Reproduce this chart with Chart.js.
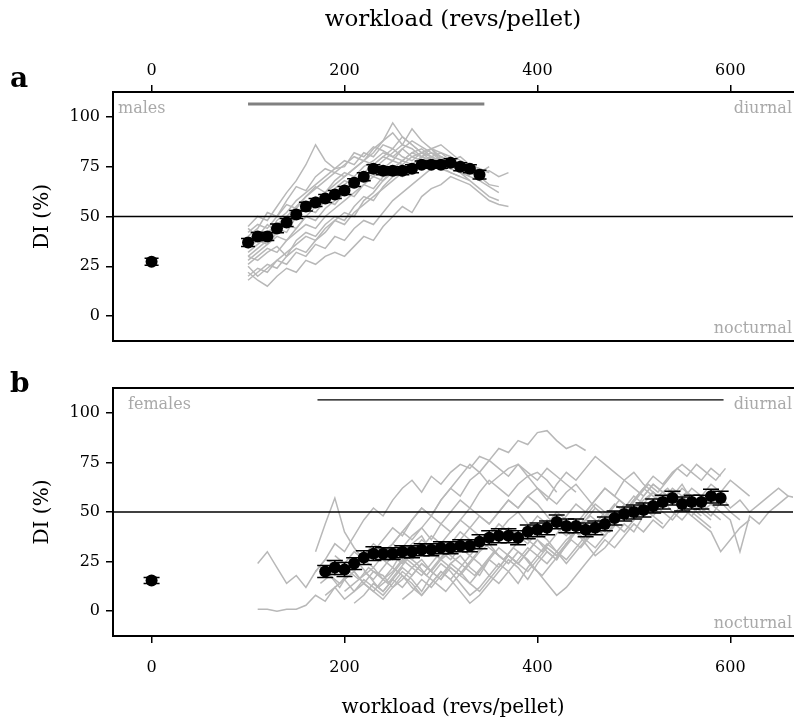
<!DOCTYPE html>
<html>
<head>
<meta charset="utf-8">
<title>DI vs workload</title>
<script src="https://cdn.jsdelivr.net/npm/chart.js@4"></script>
<style>
  html, body { margin: 0; padding: 0; background: #fff; }
  #wrap { position: relative; width: 794px; height: 720px; overflow: hidden; }
  canvas { position: absolute; left: 0; }
  #panel-a { top: 0; }
  #panel-b { top: 360px; }
</style>
</head>
<body>
<div id="wrap">
  <canvas id="panel-a" width="799" height="360"></canvas>
  <canvas id="panel-b" width="799" height="360"></canvas>
</div>
<script>
// axes
const xRange = [-40, 665];
const yRange = [-12.5, 112.5];
const xTicks = [0, 200, 400, 600];
const yTicks = [0, 25, 50, 75, 100];
const midDI = 50;
const traceStep = 10;

// workload window bars drawn along the top of each panel
const barDI = 106.5;
const maleBarX = [100, 345];
const femaleBarX = [172, 593];

// baseline (no workload) means
const baseWorkload = [0];
const maleBaseDI = [27.3];
const maleBaseSem = [1.8];
const femaleBaseDI = [15.5];
const femaleBaseSem = [1.5];

// males: group means +- sem
const maleWorkload = [100, 110, 120, 130, 140, 150, 160, 170, 180, 190, 200, 210, 220,
  230, 240, 250, 260, 270, 280, 290, 300, 310, 320, 330, 340];
const maleMeanDI = [37, 40, 40, 44, 47, 51, 55, 57, 59, 61, 63, 67, 70,
  74, 73, 73, 73, 74, 76, 76, 76, 77, 75, 74, 71];
const maleSem = [2, 2, 2, 2.2, 2, 2, 2.2, 2, 2, 2, 2, 2, 2,
  2, 2, 2, 2, 2, 1.8, 1.8, 1.8, 2, 2, 2, 2.2];

// males: individual animals, starting at 100 revs/pellet
const maleTraceStart = 100;
const maleTraces = [
  [45, 50, 48, 55, 62, 68, 76, 86, 78, 74, 75, 82, 80, 85, 83, 80, 84, 88, 85, 82, 80, 78, 80, 76, 74, 72],
  [40, 44, 52, 50, 58, 65, 63, 70, 74, 72, 76, 80, 78, 84, 88, 92, 86, 84, 80, 82, 78, 76, 72, 74],
  [22, 18, 15, 20, 24, 22, 28, 26, 30, 32, 30, 35, 40, 38, 45, 50, 55, 52, 60, 64, 66, 70, 68, 66, 62, 58, 56, 55],
  [30, 28, 32, 35, 30, 38, 42, 40, 46, 50, 48, 55, 60, 58, 65, 70, 72, 75, 78, 80, 76, 74, 72, 70, 68, 65, 62],
  [18, 22, 26, 24, 30, 34, 32, 38, 42, 48, 52, 50, 58, 62, 68, 72, 70, 76, 80, 78, 75, 72, 70, 68],
  [35, 38, 42, 46, 50, 55, 60, 65, 62, 68, 72, 70, 75, 78, 82, 80, 78, 82, 84, 80, 76, 74, 78, 75, 72, 73, 70, 72],
  [28, 32, 36, 40, 38, 44, 50, 55, 58, 56, 62, 66, 72, 70, 74, 78, 76, 80, 82, 84, 78, 76, 74, 70],
  [42, 46, 44, 50, 56, 54, 60, 64, 68, 72, 70, 74, 78, 76, 80, 84, 90, 86, 82, 78, 80, 76, 74, 72],
  [25, 20, 24, 28, 26, 32, 30, 36, 34, 40, 38, 44, 48, 46, 52, 58, 62, 66, 70, 74, 78, 76, 72, 68, 64, 60, 58],
  [38, 42, 40, 48, 52, 58, 62, 66, 70, 74, 78, 76, 82, 80, 86, 84, 80, 78, 82, 84, 80, 78, 76, 74, 72, 75],
  [32, 36, 40, 44, 42, 50, 54, 52, 58, 62, 66, 70, 68, 74, 78, 82, 86, 94, 88, 84, 82, 80, 76, 74, 72],
  [20, 24, 22, 28, 32, 36, 40, 38, 44, 48, 46, 52, 56, 60, 64, 68, 72, 76, 74, 80, 82, 78, 74, 72, 70, 66, 65],
  [44, 40, 46, 42, 48, 52, 56, 60, 58, 64, 68, 66, 72, 76, 80, 78, 84, 80, 78, 76, 74, 72, 70],
  [26, 30, 34, 32, 38, 42, 46, 44, 50, 54, 58, 62, 66, 64, 70, 74, 78, 82, 80, 78, 76, 78, 74, 72, 70],
  [34, 38, 36, 42, 46, 50, 54, 58, 62, 66, 70, 74, 78, 82, 88, 97, 90, 86, 82, 80, 78, 76, 74, 72],
  [30, 34, 38, 42, 46, 44, 50, 48, 54, 58, 62, 60, 66, 70, 68, 74, 78, 76, 80, 84, 86, 82, 78, 76, 74, 72]
];

// females: group means +- sem
const femaleWorkload = [180, 190, 200, 210, 220, 230, 240, 250, 260, 270, 280, 290, 300, 310,
  320, 330, 340, 350, 360, 370, 380, 390, 400, 410, 420, 430, 440, 450,
  460, 470, 480, 490, 500, 510, 520, 530, 540, 550, 560, 570, 580, 590];
const femaleMeanDI = [20, 22, 21, 24, 27, 29, 29, 29, 30, 30, 31, 31, 32, 32,
  33, 33, 35, 37, 38, 38, 37, 40, 41, 42, 45, 43, 43, 41,
  42, 44, 47, 49, 50, 51, 53, 55, 57, 54, 55, 55, 58, 57];
const femaleSem = [3, 3.5, 3.5, 3, 3.5, 3.5, 3, 3, 3, 3, 3, 3, 3, 3,
  3, 3, 3.5, 3.5, 3.5, 3.5, 3.5, 3.5, 3.5, 3.5, 3.5, 3.5, 3.5, 3.5,
  3.5, 3.5, 3.5, 3.5, 3.5, 3.5, 3.5, 3.5, 3.5, 3.5, 3.5, 3.5, 3.5, 3.5];

// females: individual animals, each with its own first workload step
const femaleTraceStart = [110, 110, 170, 170, 175, 180, 180, 185, 190, 190, 200, 200, 210, 220, 230, 240, 250, 260];
const femaleTraces = [
  [24, 30, 22, 14, 18, 12, 20, 26, 24, 18, 22, 28, 32, 26, 22, 30, 34, 38, 30, 26, 34, 40, 36, 30, 38, 44, 40, 36, 42, 48, 44, 50, 46, 40, 48, 54, 50, 46, 52, 58, 54, 50, 56],
  [1, 1, 0, 1, 1, 3, 8, 5, 12, 16, 10, 14, 20, 18, 12, 16, 22, 26, 20, 16, 24, 28, 22, 18, 26, 32, 28, 24, 30, 36, 30, 26, 34, 40, 36, 32, 38, 44, 40, 46],
  [30, 44, 57, 40, 32, 26, 30, 36, 42, 38, 46, 52, 48, 56, 62, 58, 66, 70, 64, 68, 72, 74, 68, 70, 66, 60],
  [20, 26, 34, 30, 38, 46, 52, 48, 56, 62, 66, 60, 68, 64, 70, 74, 72, 78, 76, 82, 80, 86, 84, 90, 91, 86, 82, 84, 81],
  [14, 18, 12, 20, 16, 22, 18, 14, 20, 26, 22, 18, 24, 30, 26, 22, 28, 34, 30, 26, 32, 38, 34, 30, 36, 42, 38, 44, 48, 44, 50, 56, 52, 48, 54, 58, 62, 56, 60, 54, 58],
  [8, 12, 6, 10, 16, 12, 8, 14, 20, 16, 10, 18, 24, 20, 14, 8, 12, 18, 24, 20, 14, 22, 28, 34, 30, 24, 30, 36, 42, 38, 44, 50, 46, 52, 48, 54, 60, 56, 62, 58, 64, 60, 66, 62, 58],
  [22, 18, 24, 20, 28, 34, 30, 26, 32, 38, 42, 36, 44, 40, 46, 52, 48, 44, 50, 56, 52, 58, 54, 48, 42, 38, 44, 50, 56, 62, 58, 66, 70, 64, 60, 56, 50, 46, 52, 48],
  [18, 14, 20, 24, 18, 12, 16, 22, 28, 24, 18, 14, 10, 16, 22, 18, 24, 30, 26, 32, 28, 22, 18, 24, 30, 36, 32, 38, 44, 40, 46, 52, 58, 64, 60, 66, 72, 68, 74, 70, 66, 72],
  [12, 16, 20, 14, 10, 6, 12, 18, 14, 8, 14, 20, 16, 10, 4, 8, 14, 20, 26, 22, 16, 24, 30, 26, 34, 40, 36, 44, 50, 46, 54, 50, 58, 64, 60, 56, 52, 48, 54, 50, 46],
  [28, 24, 30, 26, 22, 28, 34, 30, 26, 32, 38, 34, 40, 46, 42, 48, 44, 50, 56, 52, 58, 62, 56, 64, 70, 66, 72, 78, 74, 70, 66, 62, 58, 64, 60, 56, 62, 58, 52, 48, 55, 50, 46],
  [16, 20, 14, 10, 16, 22, 18, 12, 8, 14, 20, 16, 22, 28, 24, 18, 14, 20, 26, 32, 28, 24, 30, 36, 40, 34, 28, 32, 38, 44, 40, 48, 54, 50, 46, 52, 48, 44, 40, 30, 36, 42, 46],
  [10, 14, 18, 22, 16, 20, 26, 22, 18, 24, 30, 26, 32, 28, 34, 40, 36, 42, 38, 34, 40, 46, 42, 48, 54, 50, 56, 62, 58, 54, 50, 56, 60, 52, 58, 64, 56, 50, 54, 58, 52, 56, 50, 54, 58, 62, 58],
  [4, 8, 14, 10, 16, 12, 18, 24, 20, 16, 22, 18, 14, 20, 26, 22, 28, 24, 20, 26, 32, 28, 34, 40, 46, 42, 38, 44, 50, 56, 62, 58, 54, 60, 56, 52, 58, 54, 50, 46, 30, 48, 44, 50, 54, 58, 57],
  [20, 16, 22, 28, 24, 30, 36, 32, 26, 30, 36, 42, 38, 34, 40, 46, 50, 44, 40, 36, 30, 26, 32, 38, 44, 40, 46, 52, 48, 54, 60, 56, 62, 58, 54, 50, 46],
  [14, 10, 16, 22, 18, 24, 20, 26, 22, 18, 24, 30, 34, 28, 24, 30, 26, 20, 14, 8, 12, 18, 24, 30, 36, 32, 38, 44, 40, 46, 42, 48, 54, 50, 46, 42],
  [30, 34, 40, 36, 42, 48, 44, 50, 56, 52, 60, 66, 62, 58, 64, 68, 62, 58, 54, 60, 64, 58, 52, 48, 54, 50, 46, 52, 48, 44],
  [34, 40, 46, 52, 48, 56, 62, 68, 74, 70, 76, 72, 68, 74, 70, 66, 72, 68, 64, 60],
  [6, 10, 16, 12, 18, 24, 20, 14, 10, 16, 22, 28, 24, 30, 36, 32, 28, 34, 40, 46, 52, 48, 44, 50, 56, 62, 68, 64, 70, 74, 70, 66, 72, 68]
];

const FONT = '"DejaVu Serif", serif';
const TRACE_GREY = '#b8b8b8';
const LABEL_GREY = '#a9a9a9';

function toPoints(xs, ys) {
  return xs.map((x, i) => ({ x: x, y: ys[i] }));
}

function traceSets(starts, traces) {
  return traces.map((vals, i) => ({
    data: vals.map((v, j) => ({ x: starts[i] + j * traceStep, y: v })),
    borderColor: TRACE_GREY,
    borderWidth: 1.5,
    pointRadius: 0,
    order: 3
  }));
}

// error bars, frame and the in-panel annotations
const panelDecor = {
  id: 'panelDecor',
  afterDatasetsDraw(chart, args, opts) {
    const { ctx, chartArea: a, scales } = chart;
    const xs = scales.x, ys = scales.y;

    ctx.save();
    ctx.strokeStyle = '#000';
    ctx.lineWidth = 1.5;
    chart.data.datasets.forEach(ds => {
      if (!ds.errorBars) return;
      ds.data.forEach((p, i) => {
        const px = xs.getPixelForValue(p.x);
        const top = ys.getPixelForValue(p.y + ds.errorBars[i]);
        const bot = ys.getPixelForValue(p.y - ds.errorBars[i]);
        const cap = opts.cap;
        ctx.beginPath();
        ctx.moveTo(px, top); ctx.lineTo(px, bot);
        ctx.moveTo(px - cap, top); ctx.lineTo(px + cap, top);
        ctx.moveTo(px - cap, bot); ctx.lineTo(px + cap, bot);
        ctx.stroke();
      });
    });

    ctx.lineWidth = 2;
    ctx.beginPath();
    ctx.moveTo(a.right + 2, a.top);
    ctx.lineTo(a.left, a.top);
    ctx.lineTo(a.left, a.bottom);
    ctx.lineTo(a.right + 2, a.bottom);
    ctx.stroke();

    ctx.font = '16px ' + FONT;
    ctx.fillStyle = LABEL_GREY;
    ctx.textBaseline = 'alphabetic';
    ctx.textAlign = 'left';
    ctx.fillText(opts.group, a.left + opts.groupDx, a.top + 21);
    ctx.textAlign = 'right';
    ctx.fillText('diurnal', a.right - 1, a.top + 21);
    ctx.fillText('nocturnal', a.right - 1, a.bottom - 8);

    ctx.font = 'bold 28px ' + FONT;
    ctx.fillStyle = '#000';
    ctx.textAlign = 'left';
    ctx.fillText(opts.letter, 10, opts.letterY);
    ctx.restore();
  }
};

function makePanel(id, cfg) {
  const datasets = [
    {
      data: toPoints(baseWorkload.concat(cfg.workload), cfg.baseDI.concat(cfg.meanDI)),
      errorBars: cfg.baseSem.concat(cfg.sem),
      showLine: false,
      pointRadius: 6,
      pointBackgroundColor: '#000',
      pointBorderColor: '#000',
      pointBorderWidth: 0,
      order: 0
    },
    {
      data: toPoints(xRange, [midDI, midDI]),
      borderColor: '#000',
      borderWidth: 1.5,
      pointRadius: 0,
      order: 1
    },
    {
      data: toPoints(cfg.barX, [barDI, barDI]),
      borderColor: cfg.barColor,
      borderWidth: cfg.barWidth,
      pointRadius: 0,
      order: 2
    }
  ].concat(traceSets(cfg.traceStart, cfg.traces));

  return new Chart(document.getElementById(id), {
    type: 'line',
    data: { datasets: datasets },
    options: {
      responsive: false,
      animation: false,
      devicePixelRatio: 1,
      layout: { padding: cfg.padding },
      plugins: {
        legend: { display: false },
        tooltip: { enabled: false },
        panelDecor: { group: cfg.group, groupDx: cfg.groupDx, letter: cfg.letter, letterY: cfg.letterY, cap: cfg.cap }
      },
      scales: {
        x: {
          type: 'linear',
          position: cfg.xPosition,
          min: xRange[0],
          max: xRange[1],
          afterBuildTicks: s => { s.ticks = xTicks.map(v => ({ value: v })); },
          afterFit: s => { s.height = cfg.xHeight; },
          border: { display: false },
          grid: { drawOnChartArea: false, drawTicks: true, tickLength: 7, color: '#000', lineWidth: 1.5 },
          ticks: { autoSkip: false, maxRotation: 0, color: '#000', padding: cfg.xTickPad, font: { family: FONT, size: 16 } },
          title: {
            display: true,
            text: 'workload (revs/pellet)',
            color: '#000',
            font: { family: FONT, size: cfg.xTitleSize },
            padding: cfg.xTitlePad
          }
        },
        y: {
          type: 'linear',
          min: yRange[0],
          max: yRange[1],
          afterBuildTicks: s => { s.ticks = yTicks.map(v => ({ value: v })); },
          afterFit: s => { s.width = 113; },
          border: { display: false },
          grid: { drawOnChartArea: false, drawTicks: true, tickLength: 7, color: '#000', lineWidth: 1.5 },
          ticks: { autoSkip: false, color: '#000', padding: 6, font: { family: FONT, size: 16 } },
          title: {
            display: true,
            text: 'DI (%)',
            color: '#000',
            font: { family: FONT, size: 20 },
            padding: { top: 31, bottom: 0 }
          }
        }
      }
    },
    plugins: [panelDecor]
  });
}

makePanel('panel-a', {
  workload: maleWorkload, meanDI: maleMeanDI, sem: maleSem,
  baseDI: maleBaseDI, baseSem: maleBaseSem,
  traceStart: maleTraces.map(() => maleTraceStart), traces: maleTraces,
  barX: maleBarX, barColor: '#808080', barWidth: 3,
  group: 'males', groupDx: 5, letter: 'a', letterY: 87, cap: 7,
  xPosition: 'top', xHeight: 92, xTickPad: 5, xTitleSize: 23, xTitlePad: { top: 6, bottom: 0 },
  padding: { top: 0, right: 0, bottom: 19, left: 0 }
});

makePanel('panel-b', {
  workload: femaleWorkload, meanDI: femaleMeanDI, sem: femaleSem,
  baseDI: femaleBaseDI, baseSem: femaleBaseSem,
  traceStart: femaleTraceStart, traces: femaleTraces,
  barX: femaleBarX, barColor: '#000', barWidth: 1.2,
  group: 'females', groupDx: 15, letter: 'b', letterY: 32, cap: 8,
  xPosition: 'bottom', xHeight: 84, xTickPad: 15, xTitleSize: 20, xTitlePad: { top: 0, bottom: 0 },
  padding: { top: 28, right: 0, bottom: 0, left: 0 }
});
</script>
</body>
</html>
